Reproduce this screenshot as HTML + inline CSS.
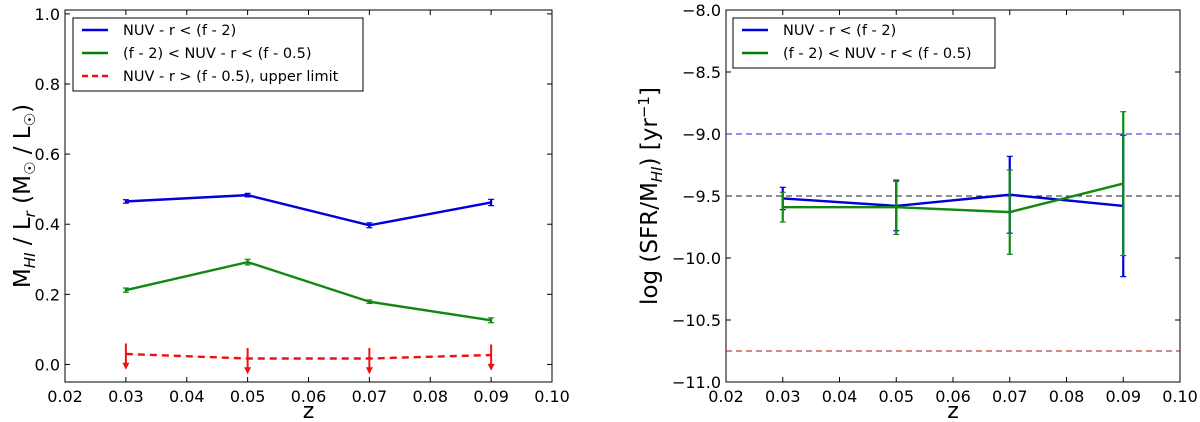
<!DOCTYPE html>
<html><head><meta charset="utf-8"><style>
html,body{margin:0;padding:0;background:#fff;}
svg{display:block;font-family:"DejaVu Sans","Liberation Sans",sans-serif;}
</style></head><body>
<svg id="fig" width="1200" height="422" viewBox="0 0 1200 422"></svg>
<script>
const zCats=[0.03,0.05,0.07,0.09];
const xTicks=[0.02,0.03,0.04,0.05,0.06,0.07,0.08,0.09,0.10];
const xTickLabels=["0.02","0.03","0.04","0.05","0.06","0.07","0.08","0.09","0.10"];
// left panel
const leftBlue=[0.465,0.483,0.397,0.462];
const leftBlueErr=[0.005,0.005,0.007,0.009];
const leftGreen=[0.212,0.292,0.179,0.126];
const leftGreenErr=[0.006,0.008,0.005,0.007];
const leftRed=[0.030,0.017,0.017,0.027];
const leftYTicks=[0.0,0.2,0.4,0.6,0.8,1.0];
const leftYTickLabels=["0.0","0.2","0.4","0.6","0.8","1.0"];
// right panel
const rightBlue=[-9.52,-9.58,-9.49,-9.58];
const rightBlueErr=[0.09,0.20,0.31,0.57];
const rightGreen=[-9.59,-9.59,-9.63,-9.40];
const rightGreenErr=[0.12,0.22,0.34,0.58];
const rightHLines=[-9.0,-9.5,-10.75];
const rightHColors=["#2222dd","#222222","#aa1111"];
const rightYTicks=[-11.0,-10.5,-10.0,-9.5,-9.0,-8.5,-8.0];
const rightYTickLabels=["\u221211.0","\u221210.5","\u221210.0","\u22129.5","\u22129.0","\u22128.5","\u22128.0"];

const NS="http://www.w3.org/2000/svg";
const svg=document.getElementById('fig');
function mk(tag,attrs,parent,text){const e=document.createElementNS(NS,tag);for(const k in attrs)e.setAttribute(k,attrs[k]);if(text!==undefined)e.textContent=text;(parent||svg).appendChild(e);return e;}
function scale(d0,d1,r0,r1){return v=>r0+(v-d0)/(d1-d0)*(r1-r0);}

function panel(name,x0,x1,y0,y1,ymin,ymax,yTicks,yLabels){
  const g=mk('g',{});
  
  
  const X=scale(0.02,0.10,x0,x1), Y=scale(ymin,ymax,y1,y0);
  const ax=mk('rect',{x:x0,y:y0,width:x1-x0,height:y1-y0,fill:'none',stroke:'#000','stroke-width':1},g);
  
  
  xTicks.forEach((t,i)=>{
    const x=X(t);
    mk('line',{x1:x,x2:x,y1:y1,y2:y1-5,stroke:'#000'},g);
    mk('line',{x1:x,x2:x,y1:y0,y2:y0+5,stroke:'#000'},g);
    const tl=mk('text',{x:x,y:y1+20,'font-size':16,'text-anchor':'middle'},g,xTickLabels[i]);
    
    
  });
  yTicks.forEach((t,i)=>{
    const y=Y(t);
    mk('line',{x1:x0,x2:x0+5,y1:y,y2:y,stroke:'#000'},g);
    mk('line',{x1:x1,x2:x1-5,y1:y,y2:y,stroke:'#000'},g);
    const tl=mk('text',{x:x0-5,y:y+6,'font-size':16,'text-anchor':'end'},g,yLabels[i]);
    
    
  });
  const xl=mk('text',{x:(x0+x1)/2,y:418,'font-size':22,'text-anchor':'middle'},g,'z');
  
  
  return {g,X,Y};
}
function series(g,X,Y,vals,errs,color,name,w){
  const pts=zCats.map((z,i)=>X(z)+','+Y(vals[i])).join(' ');
  const l=mk('polyline',{points:pts,fill:'none',stroke:color,'stroke-width':w||2.4},g);
  
  
  zCats.forEach((z,i)=>{
    const x=X(z),ya=Y(vals[i]+errs[i]),yb=Y(vals[i]-errs[i]);
    const e=mk('g',{stroke:color,'stroke-width':2.2},g);
    
    
    mk('line',{x1:x,x2:x,y1:ya,y2:yb},e);
    mk('line',{x1:x-3,x2:x+3,y1:ya,y2:ya,'stroke-width':1.2},e);
    mk('line',{x1:x-3,x2:x+3,y1:yb,y2:yb,'stroke-width':1.2},e);
  });
}
function legend(g,x,y,w,entries){
  const h=entries.length*23+4;
  const b=mk('rect',{x:x,y:y,width:w,height:h,fill:'#fff',stroke:'#000'},g);
  
  
  entries.forEach((en,i)=>{
    const yy=y+12+i*23;
    const eg=mk('g',{},g);
    
    
    mk('line',{x1:x+9,x2:x+35,y1:yy,y2:yy,stroke:en[1],'stroke-width':2.4,'stroke-dasharray':en[2]?'6,4':'none'},eg);
    mk('text',{x:x+50,y:yy+5,'font-size':14.5},eg,en[0]);
  });
}

// LEFT
const L=panel('left-panel',65,552,10,382,-0.05,1.011,leftYTicks,leftYTickLabels);
legend(L.g,73,18,290,[["NUV - r < (f - 2)","#0000dd"],["(f - 2) < NUV - r < (f - 0.5)","#008000"],["NUV - r > (f - 0.5), upper limit","#ee1111",true]]);
series(L.g,L.X,L.Y,leftBlue,leftBlueErr,'#0000dd','left-blue');
series(L.g,L.X,L.Y,leftGreen,leftGreenErr,'#118811','left-green');
const rl=mk('polyline',{points:zCats.map((z,i)=>L.X(z)+','+L.Y(leftRed[i])).join(' '),fill:'none',stroke:'#ee1111','stroke-width':2.4,'stroke-dasharray':'7,5'},L.g);


zCats.forEach((z,i)=>{
  const x=L.X(z),yt=L.Y(leftRed[i]+0.03),yb=L.Y(leftRed[i]-0.045);
  const a=mk('g',{stroke:'#ee1111',fill:'#ee1111'},L.g);
  
  
  mk('line',{x1:x,x2:x,y1:yt,y2:yb-5,'stroke-width':2},a);
  mk('polygon',{points:(x-3.5)+','+(yb-7)+' '+(x+3.5)+','+(yb-7)+' '+x+','+yb,stroke:'none'},a);
});
const ylL=mk('text',{transform:'translate(30,196) rotate(-90)','font-size':23,'text-anchor':'middle'},L.g);


ylL.innerHTML='M<tspan font-size="15" font-style="italic" dy="5">HI</tspan><tspan dy="-5"> / L</tspan><tspan font-size="15" font-style="italic" dy="5">r</tspan><tspan dy="-5"> (M</tspan><tspan font-size="15" dy="5">\u2609</tspan><tspan dy="-5"> / L</tspan><tspan font-size="15" dy="5">\u2609</tspan><tspan dy="-5">)</tspan>';

// RIGHT
const R=panel('right-panel',726,1180,10,382,-11,-8,rightYTicks,rightYTickLabels);
rightHLines.forEach((v,i)=>{
  const h=mk('line',{x1:726,x2:1180,y1:R.Y(v),y2:R.Y(v),stroke:rightHColors[i],'stroke-width':1,'stroke-dasharray':'6,4'},R.g);
  
  
});
series(R.g,R.X,R.Y,rightBlue,rightBlueErr,'#0000dd','right-blue');
series(R.g,R.X,R.Y,rightGreen,rightGreenErr,'#118811','right-green');
legend(R.g,733,18,262,[["NUV - r < (f - 2)","#0000dd"],["(f - 2) < NUV - r < (f - 0.5)","#008000"]]);
const ylR=mk('text',{transform:'translate(657,196) rotate(-90)','font-size':23,'text-anchor':'middle'},R.g);


ylR.innerHTML='log (SFR/M<tspan font-size="15" font-style="italic" dy="5">HI</tspan><tspan dy="-5">) [yr</tspan><tspan font-size="15" dy="-8">\u22121</tspan><tspan dy="8">]</tspan>';
</script>
</body></html>
